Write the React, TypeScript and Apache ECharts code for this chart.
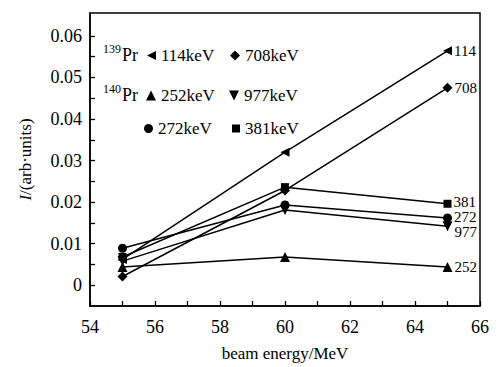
import React, { useEffect, useRef } from "react";
import * as echarts from "echarts";

const xValues = [55, 60, 65];
const s114 = [0.0062, 0.032, 0.0564];
const s708 = [0.0021, 0.0228, 0.0475];
const s252 = [0.0044, 0.0068, 0.0044];
const s977 = [0.0058, 0.0181, 0.0142];
const s272 = [0.0089, 0.0193, 0.0162];
const s381 = [0.0068, 0.0236, 0.0196];

const yLabelValues = [0, 0.01, 0.02, 0.03, 0.04, 0.05, 0.06];
const yTickValues = [0, 0.005, 0.01, 0.015, 0.02, 0.025, 0.03, 0.035, 0.04, 0.045, 0.05, 0.055, 0.06];

const FONT = "'Liberation Serif', 'Times New Roman', serif";
const LEFT_TRI = "path://M0,5L10,0L10,10Z";
const DOWN_TRI = "path://M0,0L10,0L5,10Z";

type SeriesDef = {
  name: string;
  end: string;
  values: number[];
  symbol: string;
  size: number;
  labelOffset: [number, number];
  legendLeft: number;
  legendTop: number;
};

const seriesDefs: SeriesDef[] = [
  { name: "114keV", end: "114", values: s114, symbol: LEFT_TRI, size: 9, labelOffset: [0, 0], legendLeft: 147, legendTop: 47 },
  { name: "708keV", end: "708", values: s708, symbol: "diamond", size: 10, labelOffset: [0, 0], legendLeft: 230, legendTop: 47 },
  { name: "252keV", end: "252", values: s252, symbol: "triangle", size: 10, labelOffset: [0, 0], legendLeft: 146, legendTop: 87 },
  { name: "977keV", end: "977", values: s977, symbol: DOWN_TRI, size: 10, labelOffset: [0, 6], legendLeft: 229, legendTop: 87 },
  { name: "272keV", end: "272", values: s272, symbol: "circle", size: 9, labelOffset: [0, -0.5], legendLeft: 144, legendTop: 120 },
  { name: "381keV", end: "381", values: s381, symbol: "rect", size: 8, labelOffset: [0, -1.5], legendLeft: 232, legendTop: 120 },
];

export default function App() {
  const ref = useRef<HTMLDivElement>(null);
  useEffect(() => {
    if (!ref.current) return;
    const chart = echarts.init(ref.current, null, { renderer: "svg" });
    const series = seriesDefs.map((d) => ({
      type: "line",
      name: d.name,
      data: xValues.map((x, i) => {
        const item: any = { value: [x, d.values[i]] };
        if (i === xValues.length - 1) {
          item.label = {
            show: true,
            position: "right",
            distance: 2,
            offset: d.labelOffset,
            formatter: d.end,
            fontFamily: FONT,
            fontSize: 15,
            lineHeight: 14,
            color: "#000",
          };
        }
        return item;
      }),
      symbol: d.symbol,
      symbolSize: d.size,
      showAllSymbol: true,
      lineStyle: { color: "#000", width: 1.5 },
      itemStyle: { color: "#000" },
      emphasis: { disabled: true },
      z: 3,
    }));
    const legends = seriesDefs.map((d) => ({
      data: [{ name: d.name, icon: d.symbol }],
      left: d.legendLeft,
      top: d.legendTop,
      padding: 0,
      itemWidth: d.size,
      itemHeight: d.size,
      selectedMode: false,
      textStyle: { fontFamily: FONT, fontSize: 17, color: "#000" },
    }));
    chart.setOption({
      animation: false,
      backgroundColor: "#fff",
      textStyle: { fontFamily: FONT },
      grid: { left: 90, right: 19, top: 13, bottom: 59, show: true, borderColor: "#000", borderWidth: 1.5, backgroundColor: "transparent" },
      legend: legends,
      graphic: [
        { type: "text", left: 103, top: 43, style: { text: "139", fontFamily: FONT, fontSize: 12, fill: "#000" } },
        { type: "text", left: 122, top: 46, style: { text: "Pr", fontFamily: FONT, fontSize: 18, fill: "#000" } },
        { type: "text", left: 103, top: 83, style: { text: "140", fontFamily: FONT, fontSize: 12, fill: "#000" } },
        { type: "text", left: 122, top: 86, style: { text: "Pr", fontFamily: FONT, fontSize: 18, fill: "#000" } },
      ],
      xAxis: {
        type: "value",
        min: 54,
        max: 66,
        interval: 2,
        name: "beam energy/MeV",
        nameLocation: "middle",
        nameGap: 39,
        nameTextStyle: { fontFamily: FONT, fontSize: 17, color: "#000" },
        axisLine: { show: true, onZero: false, lineStyle: { color: "#000", width: 1.5 } },
        axisTick: { show: true, inside: true, length: 5, lineStyle: { color: "#000", width: 1.3 } },
        minorTick: { show: true, splitNumber: 2, length: 5, lineStyle: { color: "#000", width: 1.3 } },
        axisLabel: { fontFamily: FONT, fontSize: 18, color: "#000", margin: 12 },
        splitLine: { show: false },
        minorSplitLine: { show: false },
      },
      yAxis: {
        type: "value",
        min: -0.005,
        max: 0.0655,
        name: "{i|I}/(arb·units)",
        nameLocation: "middle",
        nameGap: 56,
        nameTextStyle: {
          fontFamily: FONT,
          fontSize: 17,
          color: "#000",
          rich: { i: { fontFamily: FONT, fontSize: 17, fontStyle: "italic", color: "#000" } },
        },
        axisLine: { show: true, onZero: false, lineStyle: { color: "#000", width: 1.5 } },
        axisTick: { show: true, inside: true, length: 5, customValues: yTickValues, lineStyle: { color: "#000", width: 1.3 } },
        axisLabel: { fontFamily: FONT, fontSize: 18, color: "#000", margin: 8, customValues: yLabelValues },
        splitLine: { show: false },
      },
      series,
    });
    return () => chart.dispose();
  }, []);
  return <div ref={ref} style={{ width: 499, height: 367, position: "absolute", left: 0, top: 0 }} />;
}
